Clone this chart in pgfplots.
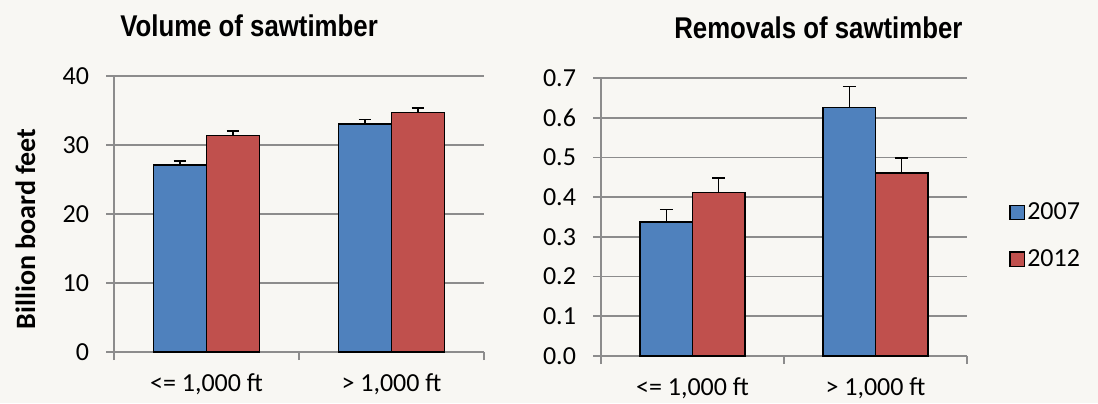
\documentclass[border=0pt]{standalone}
\usepackage{pgfplots}
\pgfplotsset{compat=1.18}
\usepackage{fontspec}
\setmainfont{Carlito}
\newfontfamily\titlefont[FakeStretch=0.86]{Liberation Sans}
\definecolor{bg}{RGB}{248,247,243}
\definecolor{cblue}{RGB}{79,129,189}
\definecolor{cred}{RGB}{192,80,77}
\definecolor{gridc}{RGB}{140,140,140}

\pgfplotsset{
 mystyle/.style={
  scale only axis,
  ybar=0pt,
  bar width=0.286,
  xmin=-0.5, xmax=1.5, ymin=0,
  axis lines=left,
  axis line style={-, gridc, line width=0.9pt},
  xtick={-0.5,0.5,1.5},
  x tick label as interval,
  xticklabels={{<= 1,000 ft},{> 1,000 ft}},
  tick align=outside,
  major tick length=4pt,
  tick style={gridc, line width=0.9pt},
  ymajorgrids,
  grid style={gridc, line width=0.9pt},
  ticklabel style={font=\fontsize{13}{15}\selectfont},
  xticklabel style={yshift=-3.5pt},
  yticklabel style={xshift=-5pt},
  /pgf/number format/assume math mode=true,
  title style={font=\titlefont\bfseries\fontsize{15}{18}\selectfont, anchor=base, yshift=13.7pt},
  error bars/y dir=plus,
  error bars/y explicit,
  error bars/error bar style={black, line width=0.7pt},
  error bars/error mark options={black, rotate=90, mark size=3.2pt, line width=0.8pt},
 },
 barblue/.style={fill=cblue, draw=black, line width=0.7pt, bar shift=-0.143},
 barred/.style={fill=cred, draw=black, line width=0.7pt, bar shift=0.143},
}

\begin{document}
\begin{tikzpicture}
\fill[bg] (0,0) rectangle (549pt,201.5pt);
\useasboundingbox (0,0) rectangle (549pt,201.5pt);

\begin{axis}[mystyle,
  at={(57pt,25.5pt)}, anchor=south west,
  width=185pt, height=138pt,
  ymax=40, ytick={0,10,20,30,40},
  title={Volume of sawtimber},
  title style={at={(axis description cs:0.365,1)}},
  ylabel={Billion board feet},
  ylabel style={font=\bfseries\fontsize{14}{16}\selectfont, at={(axis description cs:-0.2135,0.446)}, anchor=base},
]
\addplot[barblue] coordinates {(0,27.1) +- (0,0.6) (1,33.05) +- (0,0.64)};
\addplot[barred] coordinates {(0,31.37) +- (0,0.67) (1,34.7) +- (0,0.68)};
\end{axis}

\begin{axis}[mystyle,
  at={(300.5pt,23.5pt)}, anchor=south west,
  width=183pt, height=139pt,
  ymax=0.7, ytick={0,0.1,0.2,0.3,0.4,0.5,0.6,0.7},
  yticklabel style={/pgf/number format/.cd, fixed, fixed zerofill, precision=1},
  title={Removals of sawtimber},
  title style={at={(axis description cs:0.594,1)}},
  legend style={at={(rel axis cs:1.115,0.432)}, anchor=west, draw=none, fill=none,
    font=\fontsize{13}{15}\selectfont, row sep=11.5pt, inner sep=0pt,
    nodes={inner sep=1pt}},
  legend cell align=left,
  legend image code/.code={\draw[#1] (0pt,-3.6pt) rectangle (7.2pt,3.6pt);},
]
\addplot[barblue] coordinates {(0,0.337) +- (0,0.032) (1,0.625) +- (0,0.054)};
\addplot[barred] coordinates {(0,0.412) +- (0,0.036) (1,0.461) +- (0,0.037)};
\legend{2007,2012}
\end{axis}
\end{tikzpicture}
\end{document}
